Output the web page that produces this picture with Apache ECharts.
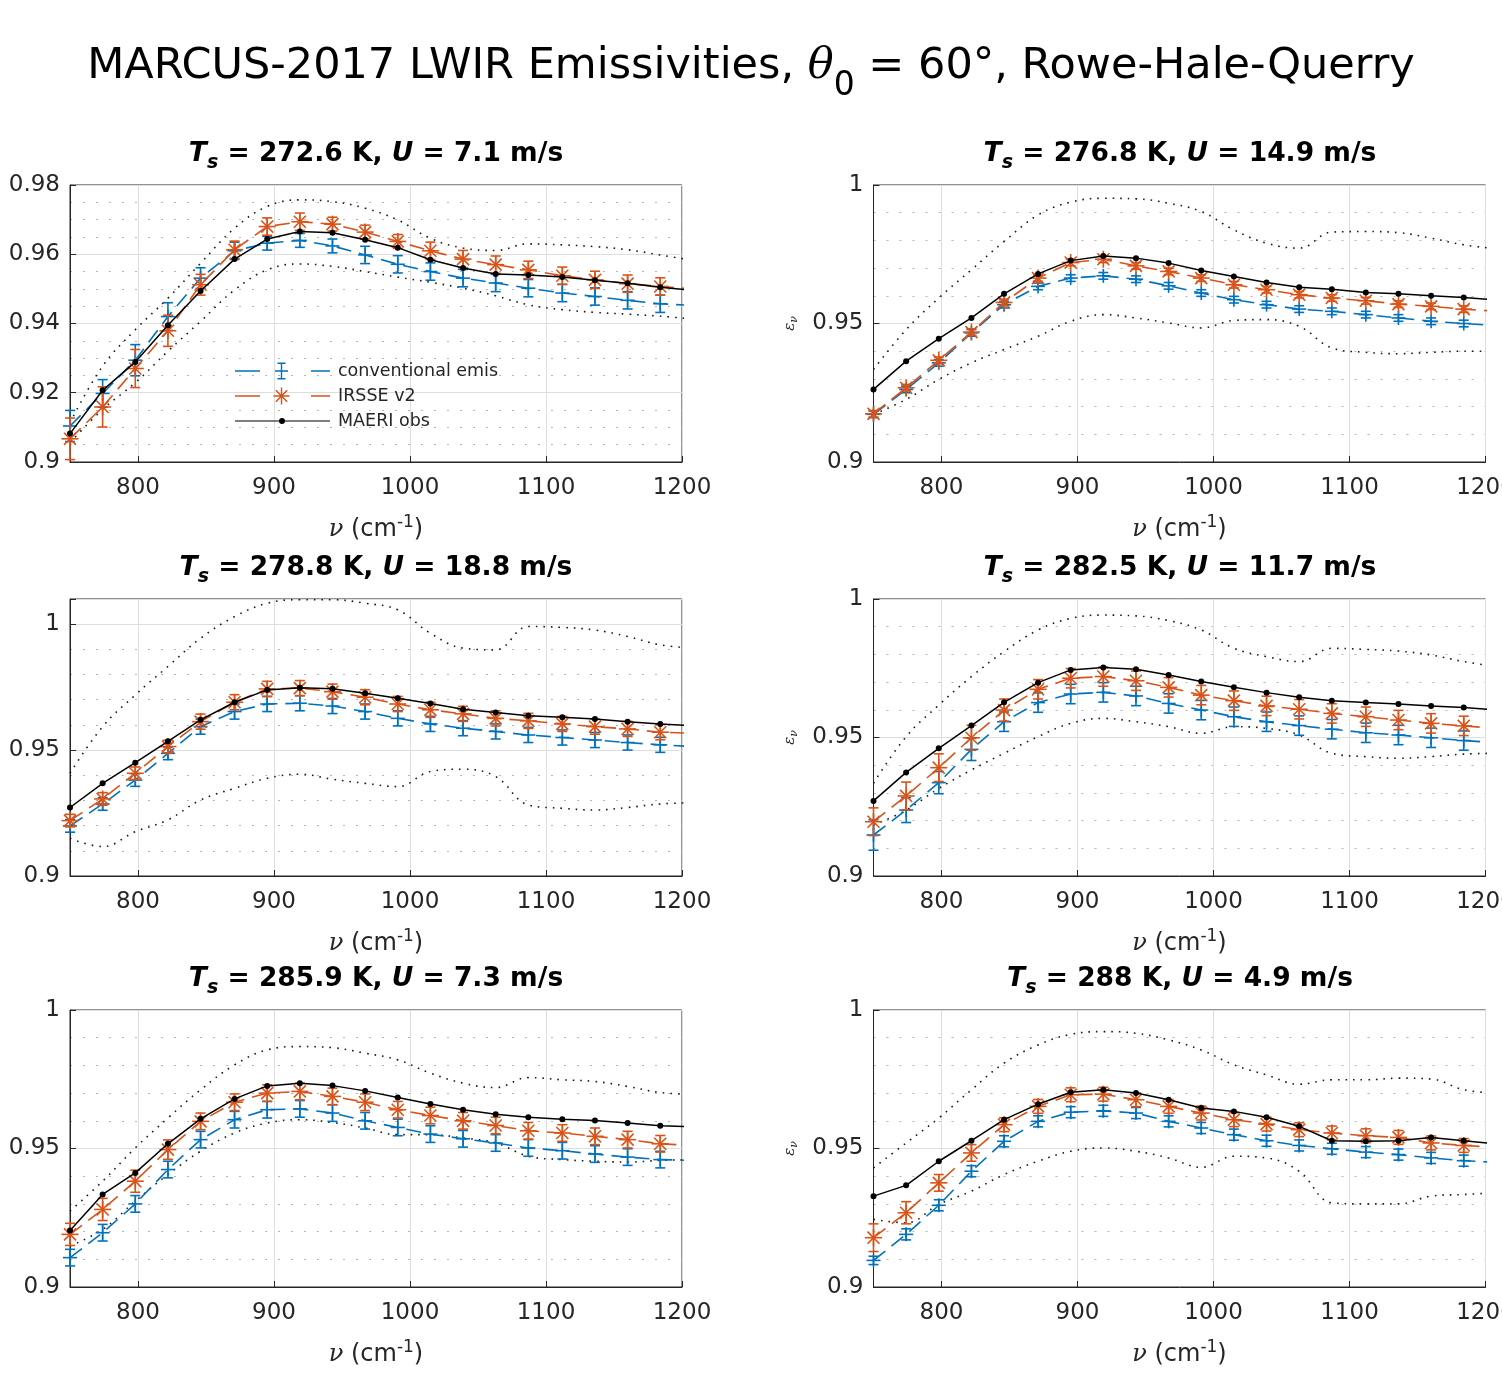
<!DOCTYPE html>
<html>
<head>
<meta charset="utf-8">
<title>MARCUS-2017 LWIR Emissivities</title>
<script src="https://cdn.jsdelivr.net/npm/echarts@6/dist/echarts.min.js"></script>
<style>
  html, body { margin: 0; padding: 0; background: #fff; }
  #chart { width: 1502px; height: 1376px; }
</style>
</head>
<body>
<div id="chart"></div>
<script>
// wavenumber grid (cm-1); the last point lies just past the axis and is clipped
const wavenumber = [750, 774, 798, 822, 846, 871, 895, 919, 943, 967, 991, 1015, 1039, 1063, 1087, 1112, 1136, 1160, 1184, 1208];

const surfaceTemp = ['272.6', '276.8', '278.8', '282.5', '285.9', '288'];
const windSpeed = ['7.1', '14.9', '18.8', '11.7', '7.3', '4.9'];

const xTickLabels = ['800', '900', '1000', '1100', '1200'];
const yTickLabels = [
  ['0.9', '0.92', '0.94', '0.96', '0.98'],
  ['0.9', '0.95', '1'],
  ['0.9', '0.95', '1'],
  ['0.9', '0.95', '1'],
  ['0.9', '0.95', '1'],
  ['0.9', '0.95', '1']
];
const yMax = [0.98, 1, 1.01, 1, 1, 1];
const yStep = [0.02, 0.05, 0.05, 0.05, 0.05, 0.05];
const yMinorStep = [0.005, 0.01, 0.01, 0.01, 0.01, 0.01];

// panel 1: Ts = 272.6 K
const conv1 = [0.9104, 0.9198, 0.9294, 0.942, 0.9531, 0.961, 0.9632, 0.964, 0.9624, 0.9598, 0.9571, 0.955, 0.9531, 0.9517, 0.9502, 0.9488, 0.9478, 0.9467, 0.9457, 0.9452];
const convErr1 = [0.0045, 0.004, 0.0045, 0.004, 0.003, 0.0025, 0.002, 0.002, 0.002, 0.0025, 0.0025, 0.0025, 0.0025, 0.0025, 0.0025, 0.0025, 0.0025, 0.0025, 0.0025];
const irsse1 = [0.9067, 0.9159, 0.927, 0.9379, 0.9512, 0.9613, 0.968, 0.9694, 0.9687, 0.9664, 0.9637, 0.961, 0.9586, 0.957, 0.9555, 0.9538, 0.9526, 0.9515, 0.9507, 0.95];
const irsseErr1 = [0.006, 0.0058, 0.0055, 0.0045, 0.003, 0.0025, 0.0025, 0.0025, 0.002, 0.002, 0.002, 0.0025, 0.0025, 0.0025, 0.0025, 0.0025, 0.0025, 0.0025, 0.0025];
const maeri1 = [0.9082, 0.9207, 0.9289, 0.9395, 0.9494, 0.9586, 0.9644, 0.9666, 0.9662, 0.9642, 0.9619, 0.9584, 0.956, 0.9543, 0.954, 0.9534, 0.9525, 0.9516, 0.9505, 0.9496];
const upper1 = [0.9113, 0.9277, 0.9382, 0.9473, 0.9574, 0.9675, 0.9738, 0.9757, 0.9752, 0.9733, 0.9699, 0.9646, 0.9618, 0.9611, 0.963, 0.9627, 0.9622, 0.9613, 0.9598, 0.9582];
const lower1 = [0.9056, 0.9152, 0.9229, 0.932, 0.9406, 0.9497, 0.9555, 0.9572, 0.9565, 0.955, 0.9534, 0.9519, 0.9502, 0.948, 0.9454, 0.944, 0.9432, 0.9427, 0.9421, 0.9413];

// panel 2: Ts = 276.8 K
const conv2 = [0.9172, 0.9262, 0.9358, 0.9466, 0.9568, 0.9634, 0.9664, 0.9672, 0.966, 0.9636, 0.961, 0.9586, 0.9568, 0.9552, 0.9544, 0.9532, 0.952, 0.9508, 0.95, 0.9492];
const convErr2 = [0.0012, 0.0012, 0.0012, 0.0012, 0.0012, 0.0012, 0.0012, 0.0012, 0.0012, 0.0012, 0.0012, 0.0012, 0.0012, 0.0012, 0.0012, 0.0012, 0.0012, 0.0012, 0.0012];
const irsse2 = [0.9174, 0.9268, 0.9367, 0.9469, 0.9576, 0.9664, 0.972, 0.9732, 0.9708, 0.9688, 0.9664, 0.964, 0.9622, 0.9604, 0.9592, 0.9582, 0.957, 0.9562, 0.9552, 0.9544];
const irsseErr2 = [0.0012, 0.0012, 0.0012, 0.0012, 0.0012, 0.0012, 0.0012, 0.0012, 0.0012, 0.0012, 0.0012, 0.0012, 0.0012, 0.0012, 0.0012, 0.0012, 0.0012, 0.0012, 0.0012];
const maeri2 = [0.9262, 0.9364, 0.9445, 0.952, 0.9607, 0.9679, 0.9727, 0.9744, 0.9736, 0.9718, 0.9691, 0.967, 0.9648, 0.9631, 0.9624, 0.9612, 0.9607, 0.96, 0.9594, 0.9585];
const upper2 = [0.9334, 0.9478, 0.9592, 0.9694, 0.9796, 0.9892, 0.9938, 0.9952, 0.995, 0.9934, 0.9904, 0.9838, 0.979, 0.9772, 0.983, 0.9832, 0.9828, 0.9808, 0.9784, 0.977];
const lower2 = [0.9172, 0.9226, 0.9298, 0.9358, 0.9406, 0.9454, 0.9508, 0.9532, 0.952, 0.9502, 0.9484, 0.9511, 0.9514, 0.949, 0.9412, 0.9396, 0.9391, 0.9396, 0.94, 0.94];

// panel 3: Ts = 278.8 K
const conv3 = [0.9199, 0.9286, 0.9381, 0.9487, 0.9593, 0.9653, 0.9683, 0.9686, 0.9675, 0.9653, 0.9626, 0.9604, 0.9587, 0.9574, 0.956, 0.955, 0.954, 0.953, 0.9521, 0.9514];
const convErr3 = [0.0025, 0.0025, 0.0025, 0.0025, 0.003, 0.003, 0.003, 0.003, 0.003, 0.003, 0.003, 0.003, 0.003, 0.003, 0.003, 0.003, 0.003, 0.003, 0.003];
const irsse3 = [0.922, 0.9306, 0.9408, 0.9514, 0.9613, 0.969, 0.9743, 0.9746, 0.9732, 0.971, 0.9683, 0.966, 0.9644, 0.9626, 0.9616, 0.9604, 0.9593, 0.9584, 0.9571, 0.9567];
const irsseErr3 = [0.0025, 0.0025, 0.0025, 0.0025, 0.003, 0.003, 0.003, 0.003, 0.003, 0.003, 0.003, 0.003, 0.003, 0.003, 0.003, 0.003, 0.003, 0.003, 0.003];
const maeri3 = [0.9272, 0.9368, 0.945, 0.9535, 0.962, 0.969, 0.9739, 0.9748, 0.9744, 0.9726, 0.9706, 0.9685, 0.9662, 0.9649, 0.9636, 0.963, 0.9623, 0.9613, 0.9604, 0.9597];
const upper3 = [0.9408, 0.9593, 0.9719, 0.9832, 0.9944, 1.003, 1.0083, 1.0097, 1.0097, 1.0083, 1.0057, 0.9964, 0.9905, 0.9898, 0.9991, 0.9987, 0.9977, 0.9951, 0.9918, 0.9905];
const lower3 = [0.915, 0.9117, 0.9176, 0.9223, 0.9302, 0.9348, 0.9388, 0.9404, 0.9384, 0.9368, 0.9355, 0.9415, 0.9424, 0.9395, 0.9282, 0.9269, 0.9262, 0.9272, 0.9286, 0.9291];

// panel 4: Ts = 282.5 K
const conv4 = [0.9148, 0.9238, 0.9337, 0.9457, 0.9557, 0.9626, 0.9657, 0.9663, 0.965, 0.9623, 0.9599, 0.9575, 0.9557, 0.9543, 0.953, 0.9517, 0.9509, 0.9499, 0.9489, 0.9481];
const convErr4 = [0.0055, 0.0045, 0.004, 0.004, 0.0035, 0.0035, 0.0035, 0.0035, 0.0035, 0.0035, 0.0035, 0.0035, 0.0035, 0.0035, 0.0035, 0.0035, 0.0035, 0.0035, 0.0035];
const irsse4 = [0.9196, 0.9289, 0.9391, 0.9499, 0.9599, 0.9674, 0.9714, 0.972, 0.9705, 0.9681, 0.9653, 0.9633, 0.9614, 0.9602, 0.9587, 0.9575, 0.9563, 0.9551, 0.9542, 0.9533];
const irsseErr4 = [0.005, 0.005, 0.005, 0.0045, 0.004, 0.0035, 0.0035, 0.0035, 0.0035, 0.0035, 0.0035, 0.0035, 0.0035, 0.0035, 0.0035, 0.0035, 0.0035, 0.0035, 0.0035];
const maeri4 = [0.9271, 0.9374, 0.9461, 0.9543, 0.9627, 0.9698, 0.9744, 0.9753, 0.9746, 0.9726, 0.9702, 0.9681, 0.9662, 0.9645, 0.9633, 0.9626, 0.9621, 0.9614, 0.9608, 0.9599];
const upper4 = [0.9335, 0.9503, 0.9617, 0.972, 0.981, 0.9888, 0.993, 0.9942, 0.9939, 0.9922, 0.9888, 0.9822, 0.9792, 0.9774, 0.9822, 0.9818, 0.9812, 0.9798, 0.9774, 0.9756];
const lower4 = [0.9184, 0.9238, 0.9316, 0.9383, 0.9443, 0.9503, 0.9551, 0.9569, 0.9557, 0.9539, 0.9515, 0.9539, 0.9533, 0.9509, 0.9443, 0.9431, 0.9425, 0.9431, 0.944, 0.9443];

// panel 5: Ts = 285.9 K
const conv5 = [0.9106, 0.9196, 0.93, 0.9424, 0.9532, 0.9604, 0.964, 0.9643, 0.9628, 0.96, 0.9576, 0.9552, 0.9535, 0.952, 0.9502, 0.9492, 0.948, 0.9469, 0.946, 0.9457];
const convErr5 = [0.003, 0.003, 0.003, 0.003, 0.003, 0.003, 0.003, 0.003, 0.003, 0.003, 0.003, 0.003, 0.003, 0.003, 0.003, 0.003, 0.003, 0.003, 0.003];
const irsse5 = [0.919, 0.928, 0.9382, 0.9496, 0.9598, 0.9667, 0.97, 0.9706, 0.9688, 0.9667, 0.964, 0.9619, 0.96, 0.9583, 0.9564, 0.9556, 0.9544, 0.9532, 0.9517, 0.9511];
const irsseErr5 = [0.004, 0.004, 0.004, 0.0035, 0.003, 0.003, 0.003, 0.003, 0.003, 0.003, 0.003, 0.003, 0.003, 0.003, 0.003, 0.003, 0.003, 0.003, 0.003];
const maeri5 = [0.9204, 0.9334, 0.9412, 0.9517, 0.9607, 0.9679, 0.9726, 0.9736, 0.9727, 0.9708, 0.9684, 0.9661, 0.964, 0.9624, 0.9613, 0.9606, 0.9601, 0.9592, 0.9582, 0.9579];
const upper5 = [0.9274, 0.9382, 0.9502, 0.961, 0.9712, 0.9802, 0.9856, 0.9868, 0.9864, 0.9844, 0.982, 0.9772, 0.9736, 0.972, 0.9756, 0.9748, 0.9742, 0.9724, 0.9702, 0.9696];
const lower5 = [0.9148, 0.9208, 0.931, 0.9406, 0.949, 0.9556, 0.9592, 0.9604, 0.9594, 0.9574, 0.955, 0.955, 0.9538, 0.952, 0.9472, 0.946, 0.9454, 0.9451, 0.9457, 0.946];

// panel 6: Ts = 288 K
const conv6 = [0.9096, 0.919, 0.9295, 0.9418, 0.9526, 0.9598, 0.9631, 0.9636, 0.9628, 0.9598, 0.9574, 0.955, 0.9528, 0.9511, 0.9499, 0.9487, 0.9478, 0.9466, 0.9456, 0.945];
const convErr6 = [0.0015, 0.002, 0.002, 0.002, 0.002, 0.002, 0.002, 0.002, 0.002, 0.002, 0.002, 0.002, 0.002, 0.002, 0.002, 0.002, 0.002, 0.002, 0.002];
const irsse6 = [0.9178, 0.9268, 0.9376, 0.9484, 0.9586, 0.9652, 0.9694, 0.9696, 0.9676, 0.9652, 0.9628, 0.9604, 0.9588, 0.9568, 0.9556, 0.9546, 0.954, 0.952, 0.9511, 0.9504];
const irsseErr6 = [0.005, 0.004, 0.003, 0.003, 0.0025, 0.0025, 0.0025, 0.0025, 0.0025, 0.0025, 0.0025, 0.0025, 0.0025, 0.0025, 0.0025, 0.0025, 0.0025, 0.0025, 0.0025];
const maeri6 = [0.9328, 0.9367, 0.9454, 0.9528, 0.9604, 0.966, 0.9703, 0.9712, 0.97, 0.9676, 0.9646, 0.9634, 0.9613, 0.958, 0.9528, 0.9526, 0.9528, 0.954, 0.9528, 0.9516];
const upper6 = [0.943, 0.952, 0.961, 0.9712, 0.9808, 0.9874, 0.9912, 0.9922, 0.9916, 0.9892, 0.9856, 0.9802, 0.9766, 0.9732, 0.9748, 0.9748, 0.9754, 0.9751, 0.9712, 0.97];
const lower6 = [0.9244, 0.9232, 0.9298, 0.9346, 0.9406, 0.9454, 0.949, 0.9502, 0.949, 0.9466, 0.9432, 0.9472, 0.9466, 0.9418, 0.9304, 0.93, 0.93, 0.9328, 0.9334, 0.934];

const panels = [
  { conv: conv1, convErr: convErr1, irsse: irsse1, irsseErr: irsseErr1, maeri: maeri1, upper: upper1, lower: lower1 },
  { conv: conv2, convErr: convErr2, irsse: irsse2, irsseErr: irsseErr2, maeri: maeri2, upper: upper2, lower: lower2 },
  { conv: conv3, convErr: convErr3, irsse: irsse3, irsseErr: irsseErr3, maeri: maeri3, upper: upper3, lower: lower3 },
  { conv: conv4, convErr: convErr4, irsse: irsse4, irsseErr: irsseErr4, maeri: maeri4, upper: upper4, lower: lower4 },
  { conv: conv5, convErr: convErr5, irsse: irsse5, irsseErr: irsseErr5, maeri: maeri5, upper: upper5, lower: lower5 },
  { conv: conv6, convErr: convErr6, irsse: irsse6, irsseErr: irsseErr6, maeri: maeri6, upper: upper6, lower: lower6 }
];

const fontFamily = '"DejaVu Sans", sans-serif';
const axisColor = '#262626';
const blue = '#0072BD';
const orange = '#D95319';

// layout of the 3x2 panels
const colLeft = [70, 873.5];
const colCenter = [376, 1180];
const rowTop = [185, 599, 1010];
const plotW = 612;
const plotH = 277;

// legend icons (line sample + marker), drawn as filled paths 95x20
const boxPts = 'M0,0L0.01,0L0,0ZM95,20L94.99,20L95,20Z';
const convIcon = 'path://' + boxPts +
  'M0,9.3H25V10.7H0ZM76,9.3H95V10.7H76Z' +
  'M40,9.3H53V10.7H40ZM45.8,1.5H47.2V18.5H45.8ZM42.5,1.5H50.5V2.9H42.5ZM42.5,17.1H50.5V18.5H42.5Z';
const irsseIcon = 'path://' + boxPts +
  'M0,9.3H25V10.7H0ZM76,9.3H95V10.7H76Z' +
  'M38.5,9.3H54.5V10.7H38.5ZM45.8,1.5H47.2V18.5H45.8Z' +
  'M41.34,3.84L52.66,15.16L51.66,16.16L40.34,4.84Z' +
  'M41.34,16.16L40.34,15.16L51.66,3.84L52.66,4.84Z';
const maeriIcon = 'path://' + boxPts +
  'M0,9.4H95V10.6H0ZM50,10A3,3 0 1,1 44,10A3,3 0 1,1 50,10Z';

// error bar + marker for each point, like MATLAB errorbar()
const makeErrorBar = (color, marker) => (params, api) => {
  const x = api.value(0);
  const y = api.value(1);
  const e = api.value(2);
  const c = api.coord([x, y]);
  const yTop = api.coord([x, y + e])[1];
  const yBot = api.coord([x, y - e])[1];
  const cap = 5;
  const r = marker === 'plus' ? 7 : 8.5;
  const style = { stroke: color, lineWidth: 1.6, fill: null };
  const seg = (x1, y1, x2, y2) => ({ type: 'line', shape: { x1, y1, x2, y2 }, style });
  const children = [
    seg(c[0], yTop, c[0], yBot),
    seg(c[0] - cap, yTop, c[0] + cap, yTop),
    seg(c[0] - cap, yBot, c[0] + cap, yBot),
    seg(c[0] - r, c[1], c[0] + r, c[1]),
    seg(c[0], c[1] - r, c[0], c[1] + r)
  ];
  if (marker === 'star') {
    const d = r * 0.707;
    children.push(seg(c[0] - d, c[1] - d, c[0] + d, c[1] + d));
    children.push(seg(c[0] - d, c[1] + d, c[0] + d, c[1] - d));
  }
  return { type: 'group', children };
};

const grids = [];
const xAxes = [];
const yAxes = [];
const series = [];
const titles = [{
  text: '{a|MARCUS-2017 LWIR Emissivities, }{t|θ}{s|0}{a| = 60°, Rowe-Hale-Querry}',
  left: 'center',
  top: 30,
  padding: 0,
  textStyle: {
    fontFamily,
    fontSize: 43,
    fontWeight: 'normal',
    color: '#000',
    rich: {
      a: { fontFamily, fontSize: 43, color: '#000' },
      t: { fontFamily: '"DejaVu Serif", serif', fontStyle: 'italic', fontSize: 43, color: '#000' },
      s: { fontFamily, fontSize: 33, color: '#000', padding: [40, 0, 0, 0] }
    }
  }
}];

const line = (name, gi, yi, vals, lineStyle, extra) => Object.assign({
  name,
  type: 'line',
  xAxisIndex: gi,
  yAxisIndex: yi,
  data: wavenumber.map((x, k) => [x, vals[k]]),
  symbol: 'none',
  lineStyle,
  itemStyle: { color: lineStyle.color },
  animation: false,
  silent: true
}, extra || {});

const bars = (name, gi, yi, vals, errs, color, marker, z) => ({
  name,
  type: 'custom',
  xAxisIndex: gi,
  yAxisIndex: yi,
  data: errs.map((e, k) => [wavenumber[k], vals[k], e]),
  encode: { x: 0, y: 1 },
  renderItem: makeErrorBar(color, marker),
  itemStyle: { color },
  clip: false,
  z,
  animation: false,
  silent: true
});

panels.forEach((p, i) => {
  const col = i % 2;
  const row = Math.floor(i / 2);
  grids.push({
    left: colLeft[col], top: rowTop[row], width: plotW, height: plotH,
    outerBoundsMode: 'none',
    containLabel: false,
    show: true, borderColor: axisColor, borderWidth: 1, backgroundColor: 'transparent'
  });

  titles.push({
    text: `{b|T}{s|s}{n| = ${surfaceTemp[i]} K, }{b|U}{n| = ${windSpeed[i]} m/s}`,
    left: colCenter[col],
    top: rowTop[row] - 49,
    textAlign: 'center',
    padding: 0,
    textStyle: {
      fontFamily,
      fontSize: 26.5,
      fontWeight: 'bold',
      color: '#000',
      rich: {
        b: { fontFamily, fontSize: 26.5, fontWeight: 'bold', fontStyle: 'italic', color: '#000' },
        s: { fontFamily, fontSize: 19, fontWeight: 'bold', fontStyle: 'italic', color: '#000', padding: [18, 0, 0, 0] },
        n: { fontFamily, fontSize: 26.5, fontWeight: 'bold', color: '#000' }
      }
    }
  });

  xAxes.push({
    type: 'value',
    gridIndex: i,
    position: 'bottom',
    min: 750,
    max: 1200,
    splitNumber: 5,
    name: '{i|ν} (cm{sup|-1})',
    nameLocation: 'middle',
    nameGap: 52,
    nameTextStyle: {
      fontFamily, fontSize: 24, color: axisColor,
      rich: {
        i: { fontFamily: '"DejaVu Serif", serif', fontStyle: 'italic', fontSize: 24, color: axisColor },
        sup: { fontFamily, fontSize: 17, color: axisColor, padding: [0, 0, 14, 0] }
      }
    },
    axisLine: { show: true, lineStyle: { color: axisColor, width: 1 } },
    axisTick: { show: true, inside: true, length: 6, lineStyle: { color: axisColor } },
    axisLabel: {
      fontFamily, fontSize: 23, color: axisColor, margin: 15,
      showMinLabel: false,
      formatter: v => (xTickLabels.includes(String(v)) ? String(v) : '')
    },
    splitLine: { show: true, lineStyle: { color: '#dedede', width: 1 } }
  });

  // minor dotted grid on its own hidden axis, main axis after it
  yAxes.push({
    type: 'value',
    gridIndex: i,
    position: 'left',
    min: 0.9,
    max: yMax[i],
    interval: yMinorStep[i],
    axisLine: { show: false },
    axisTick: { show: false },
    axisLabel: { show: false },
    splitLine: { show: true, lineStyle: { color: '#b4b4b4', width: 1.2, type: [2, 11] } }
  });
  yAxes.push({
    type: 'value',
    gridIndex: i,
    position: 'left',
    min: 0.9,
    max: yMax[i],
    interval: yStep[i],
    name: col === 1 ? '{e|ε}{n|ν}' : '',
    nameLocation: 'middle',
    nameGap: 74,
    nameTextStyle: {
      fontFamily, fontSize: 14, color: axisColor,
      rich: {
        e: { fontFamily: '"DejaVu Serif", serif', fontStyle: 'italic', fontSize: 15, color: axisColor },
        n: { fontFamily: '"DejaVu Serif", serif', fontStyle: 'italic', fontSize: 11, color: axisColor, padding: [8, 0, 0, 0] }
      }
    },
    axisLine: { show: true, lineStyle: { color: axisColor, width: 1 } },
    axisTick: { show: true, inside: true, length: 6, lineStyle: { color: axisColor } },
    axisLabel: {
      fontFamily, fontSize: 23, color: axisColor, margin: 10,
      formatter: v => {
        const s = String(+v.toFixed(4));
        return yTickLabels[i].includes(s) ? s : '';
      }
    },
    splitLine: { show: true, lineStyle: { color: '#dedede', width: 1 } }
  });

  const yi = 2 * i + 1;
  const dotted = { color: '#1a1a1a', width: 1.6, type: [1.6, 6] };
  series.push(line('upper', i, yi, p.upper, dotted, { smooth: 0.4, z: 2 }));
  series.push(line('lower', i, yi, p.lower, dotted, { smooth: 0.4, z: 2 }));
  series.push(line('conventional emis', i, yi, p.conv, { color: blue, width: 1.6, type: [15, 8] }, { z: 3 }));
  series.push(bars('conventional emis', i, yi, p.conv, p.convErr, blue, 'plus', 4));
  series.push(line('IRSSE v2', i, yi, p.irsse, { color: orange, width: 1.6, type: [15, 8] }, { z: 5 }));
  series.push(bars('IRSSE v2', i, yi, p.irsse, p.irsseErr, orange, 'star', 6));
  series.push(line('MAERI obs', i, yi, p.maeri, { color: '#000', width: 1.5 }, {
    z: 7, symbol: 'circle', symbolSize: 6, showSymbol: true
  }));
});

const chart = echarts.init(document.getElementById('chart'));
chart.setOption({
  backgroundColor: '#fff',
  animation: false,
  title: titles,
  grid: grids,
  xAxis: xAxes,
  yAxis: yAxes,
  legend: {
    left: 235,
    top: 361,
    orient: 'vertical',
    padding: 0,
    itemGap: 5,
    itemWidth: 95,
    itemHeight: 20,
    selectedMode: false,
    itemStyle: { borderWidth: 0 },
    textStyle: { fontFamily, fontSize: 17.5, color: axisColor, padding: [0, 0, 0, 3] },
    data: [
      { name: 'conventional emis', icon: convIcon },
      { name: 'IRSSE v2', icon: irsseIcon },
      { name: 'MAERI obs', icon: maeriIcon }
    ]
  },
  series
});
</script>
</body>
</html>
